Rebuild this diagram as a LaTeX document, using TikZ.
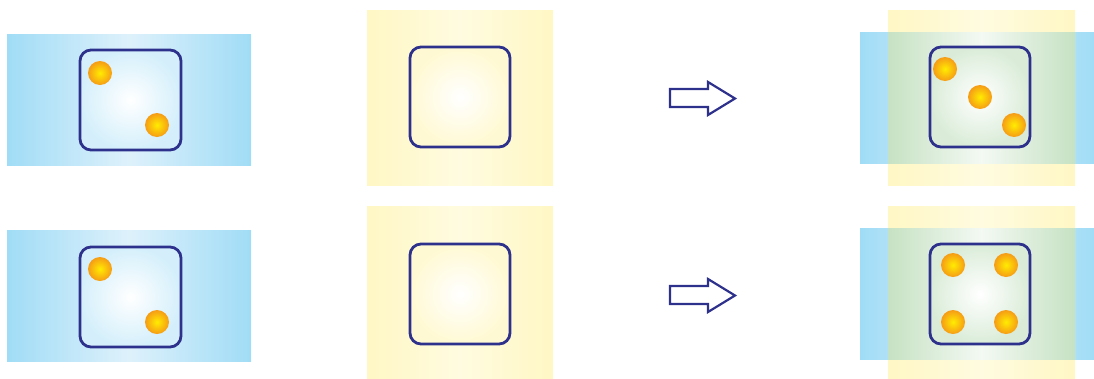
\documentclass[tikz,border=0pt]{standalone}
\definecolor{navy}{RGB}{46,49,140}
\definecolor{bedge}{RGB}{160,220,246}
\definecolor{bmid}{RGB}{222,241,251}
\definecolor{yedge}{RGB}{255,247,196}
\definecolor{ymid}{RGB}{255,251,224}
\definecolor{gedge}{RGB}{198,226,195}
\definecolor{pipin}{RGB}{255,236,0}
\definecolor{pipout}{RGB}{246,156,22}
\tikzset{
  bluebg/.style={left color=bedge,right color=bedge,middle color=bmid,draw=none},
  yellowbg/.style={left color=yedge,right color=yedge,middle color=ymid,draw=none},
  greenbg/.style={left color=gedge,right color=gedge,middle color=white!80!gedge,draw=none},
  diebox/.style={draw=navy,line width=2.8pt,rounded corners=11pt},
  pip/.style={circle,inner sep=0pt,minimum size=24pt,inner color=pipin,outer color=pipout,draw=none},
  arrowshape/.style={draw=navy,line width=2.2pt,fill=white,line join=miter}
}
\begin{document}
\begin{tikzpicture}[x=1pt,y=-1pt]
\useasboundingbox (0,0) rectangle (1094,378);
% ---------- top row ----------
\fill[bluebg] (7,34) rectangle (251,165);
\draw[diebox,inner color=white,outer color=bedge!45] (80,50) rectangle (181,150);
\node[pip] (p1) at (100,73) {};
\node[pip] (p2) at (157,125) {};

\fill[yellowbg] (367,10) rectangle (553,185);
\draw[diebox,inner color=white,outer color=yedge!75] (410,47) rectangle (510,147);

\draw[arrowshape] (670,89) -- (708,89) -- (708,82) -- (735,98.5) -- (708,115) -- (708,107) -- (670,107) -- cycle;

\fill[bluebg] (860,32) rectangle (1094,163);
\fill[yellowbg] (888,10) rectangle (1075,185);
\fill[greenbg] (888,32) rectangle (1075,163);
\draw[diebox,inner color=white,outer color=gedge!65] (930,47) rectangle (1030,147);
\node[pip] (q1) at (945,69) {};
\node[pip] (q2) at (980,97) {};
\node[pip] (q3) at (1014,125) {};

% ---------- bottom row ----------
\fill[bluebg] (7,230) rectangle (251,361);
\draw[diebox,inner color=white,outer color=bedge!45] (80,247) rectangle (181,347);
\node[pip] (r1) at (100,269) {};
\node[pip] (r2) at (157,322) {};

\fill[yellowbg] (367,206) rectangle (553,378);
\draw[diebox,inner color=white,outer color=yedge!75] (410,244) rectangle (510,344);

\draw[arrowshape] (670,286) -- (708,286) -- (708,279) -- (735,295.5) -- (708,312) -- (708,304) -- (670,304) -- cycle;

\fill[bluebg] (860,228) rectangle (1094,359);
\fill[yellowbg] (888,206) rectangle (1075,378);
\fill[greenbg] (888,228) rectangle (1075,359);
\draw[diebox,inner color=white,outer color=gedge!65] (930,244) rectangle (1030,344);
\node[pip] (s1) at (953,265) {};
\node[pip] (s2) at (1006,265) {};
\node[pip] (s3) at (953,322) {};
\node[pip] (s4) at (1006,322) {};
\end{tikzpicture}
\end{document}
